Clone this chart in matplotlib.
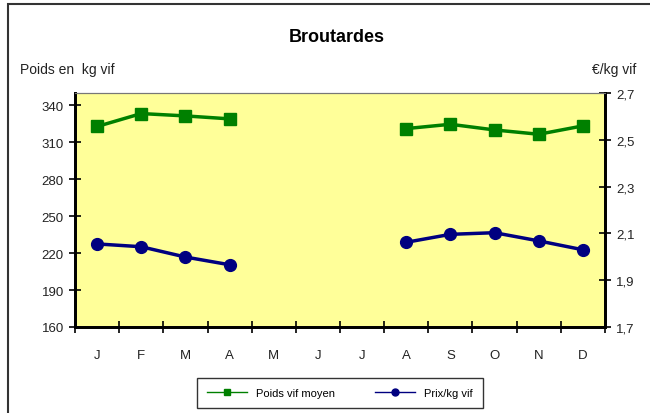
import numpy as np
import matplotlib.pyplot as plt
from matplotlib.lines import Line2D
from matplotlib.patches import Rectangle

plt.rcParams["font.family"] = ["Liberation Sans", "DejaVu Sans"]

MONTHS = ["J", "F", "M", "A", "M", "J", "J", "A", "S", "O", "N", "D"]
POIDS = [322.8, 333.3, 331.4, 329.0, None, None, None, 321.1, 324.6, 320.0, 316.5, 323.3]
PRIX = [2.055, 2.043, 1.999, 1.966, None, None, None, 2.062, 2.096, 2.103, 2.068, 2.030]

GREEN = "#008000"
NAVY = "#000080"


def to_arr(vals):
    return np.array([np.nan if v is None else v for v in vals], dtype=float)


def main():
    fig = plt.figure(figsize=(6.5, 4.14), dpi=100)
    ax = fig.add_axes([75 / 650, 1 - 328 / 414, 530 / 650, 234 / 414])
    ax2 = ax.twinx()

    x = np.arange(len(MONTHS))
    ax.plot(x, to_arr(POIDS), color=GREEN, lw=2.5, marker="s", ms=8.5, zorder=3)
    ax2.plot(x, to_arr(PRIX), color=NAVY, lw=2.5, marker="o", ms=8.5, zorder=3)

    ax.set_facecolor("#FFFF99")
    ax.set_xlim(-0.5, 11.5)
    ax.set_ylim(160, 350)
    ax.set_yticks(np.arange(160, 341, 30))
    ax2.set_ylim(1.7, 2.7)
    ax2.set_yticks([1.7, 1.9, 2.1, 2.3, 2.5, 2.7])
    ax2.set_yticklabels(["1,7", "1,9", "2,1", "2,3", "2,5", "2,7"])

    ax.set_xticks(np.arange(-0.5, 12, 1))
    ax.set_xticklabels([])
    ax.set_xticks(x, minor=True)
    ax.set_xticklabels(MONTHS, minor=True)
    ax.tick_params(axis="x", which="minor", length=0, pad=16, labelsize=9.5, colors="#222222")
    ax.tick_params(axis="x", which="major", direction="inout", length=8, width=1.2)
    ax.tick_params(axis="y", direction="inout", length=8, width=1.2, labelsize=9.5,
                   labelcolor="#222222", pad=4)
    ax2.tick_params(axis="y", direction="inout", length=8, width=1.2, labelsize=9.5,
                    labelcolor="#222222", pad=4)

    for a in (ax, ax2):
        a.spines["top"].set_color("#777777")
        a.spines["top"].set_linewidth(0.8)
        for side in ("left", "right", "bottom"):
            a.spines[side].set_linewidth(2)
            a.spines[side].set_color("black")

    fig.text(337 / 650, 1 - 38 / 414, "Broutardes", ha="center", va="center",
             fontsize=13, fontweight="bold")
    fig.text(20 / 650, 1 - 70 / 414, "Poids en  kg vif", ha="left", va="center",
             fontsize=10, color="#222222")
    fig.text(636 / 650, 1 - 70 / 414, "€/kg vif", ha="right", va="center",
             fontsize=10, color="#222222")

    # outer chart frame
    fig.patches.append(Rectangle((8 / 650, -0.1), 1.2, 1 - 5 / 414 + 0.1,
                                 transform=fig.transFigure, fill=False,
                                 edgecolor="#333333", lw=1.5))

    handles = [
        Line2D([], [], color=GREEN, lw=1, marker="s", ms=5),
        Line2D([], [], color=NAVY, lw=1, marker="o", ms=5),
    ]
    leg = fig.legend(handles, ["Poids vif moyen", "Prix/kg vif"], ncol=2,
                     loc="center", bbox_to_anchor=(340 / 650, 1 - 394 / 414),
                     fontsize=8, frameon=True, fancybox=False, handlelength=3.6,
                     columnspacing=3.6, borderpad=0.9, borderaxespad=0,
                     edgecolor="black")
    leg.get_frame().set_linewidth(1)

    fig.savefig("out.png", dpi=100)


if __name__ == "__main__":
    main()
